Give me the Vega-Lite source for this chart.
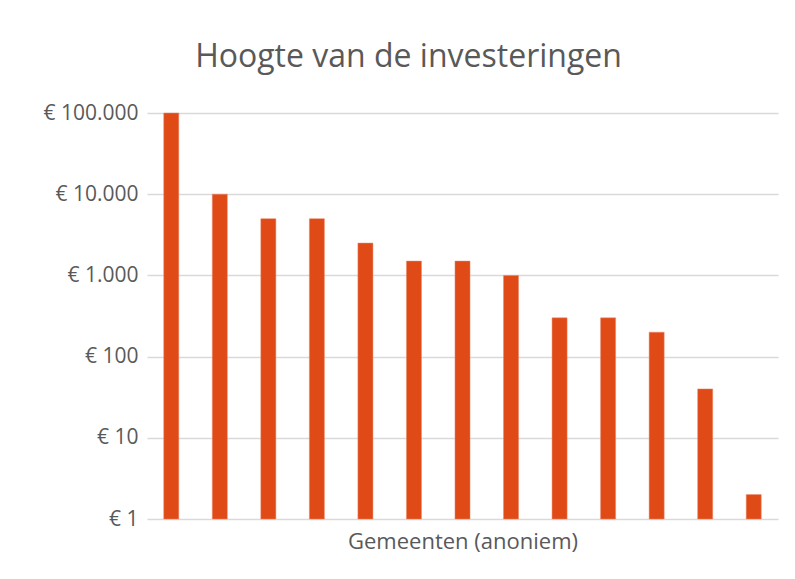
{
  "$schema": "https://vega.github.io/schema/vega-lite/v6.json",
  "width": 631,
  "height": 406,
  "autosize": {"type": "none"},
  "padding": {"left": 147, "top": 113, "right": 17, "bottom": 60},
  "background": "white",
  "title": {
    "text": "Hoogte van de investeringen",
    "font": "Open Sans",
    "fontSize": 32,
    "fontWeight": "normal",
    "color": "#595959",
    "anchor": "middle",
    "dx": -54,
    "offset": 28
  },
  "data": {
    "values": [
      {"gemeente": "G1", "bedrag": 100000},
      {"gemeente": "G2", "bedrag": 10000},
      {"gemeente": "G3", "bedrag": 5000},
      {"gemeente": "G4", "bedrag": 5000},
      {"gemeente": "G5", "bedrag": 2500},
      {"gemeente": "G6", "bedrag": 1500},
      {"gemeente": "G7", "bedrag": 1500},
      {"gemeente": "G8", "bedrag": 1000},
      {"gemeente": "G9", "bedrag": 300},
      {"gemeente": "G10", "bedrag": 300},
      {"gemeente": "G11", "bedrag": 200},
      {"gemeente": "G12", "bedrag": 40},
      {"gemeente": "G13", "bedrag": 2}
    ]
  },
  "mark": {"type": "bar", "color": "#E04A17", "stroke": "#E8896A", "strokeWidth": 0.5},
  "encoding": {
    "x": {
      "field": "gemeente",
      "type": "nominal",
      "sort": null,
      "scale": {"paddingInner": 0.69, "paddingOuter": 0.345},
      "axis": {
        "title": "Gemeenten (anoniem)",
        "labels": false,
        "ticks": false,
        "domain": false,
        "titleFont": "Open Sans",
        "titleFontSize": 22,
        "titleFontWeight": "normal",
        "titleColor": "#595959",
        "titlePadding": 12
      }
    },
    "y": {
      "field": "bedrag",
      "type": "quantitative",
      "scale": {"type": "log", "domain": [1, 100000], "nice": false},
      "axis": {
        "title": null,
        "values": [1, 10, 100, 1000, 10000, 100000],
        "labelExpr": "'€ ' + replace(format(datum.value, ','), regexp(',', 'g'), '.')",
        "labelFont": "Open Sans",
        "labelFontSize": 21,
        "labelColor": "#595959",
        "labelPadding": 9,
        "ticks": false,
        "domain": false,
        "grid": true,
        "gridColor": "#D9D9D9",
        "gridWidth": 1.3
      }
    },
    "y2": {"datum": 1}
  },
  "config": {"view": {"stroke": null}}
}
